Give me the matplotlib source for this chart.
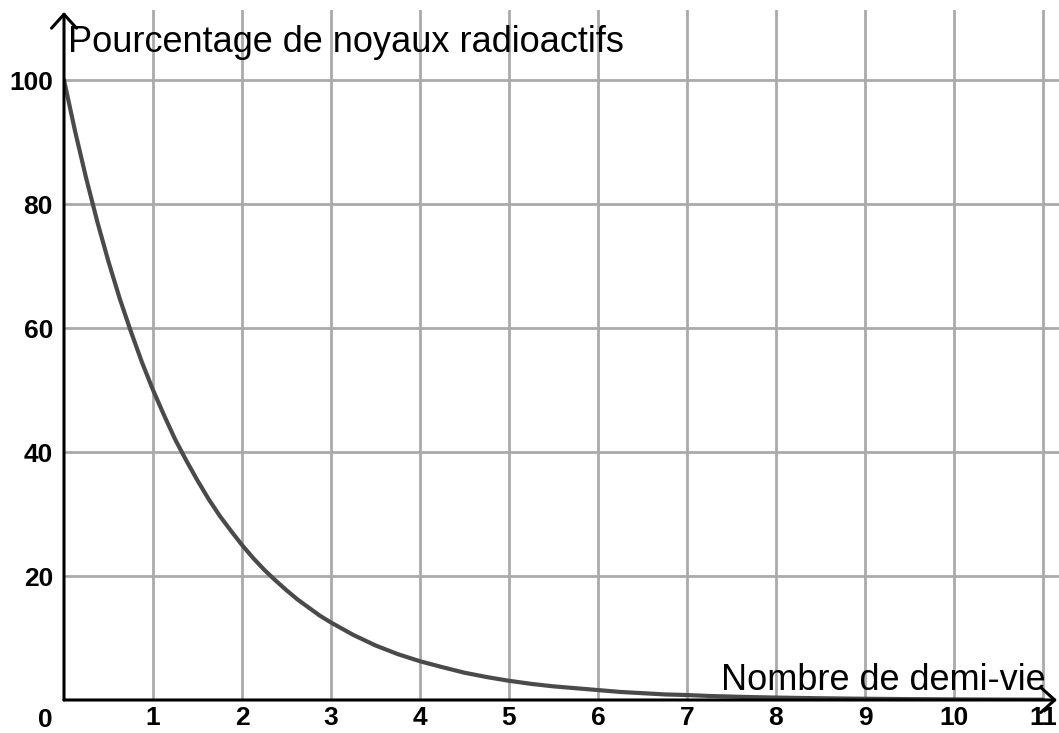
import matplotlib
matplotlib.use("Agg")
import matplotlib.pyplot as plt
from matplotlib.patches import FancyArrowPatch

# Data (half-lives vs percentage)
half_lives = [0, 0.125, 0.25, 0.375, 0.5, 0.625, 0.75, 0.875, 1, 1.125, 1.25, 1.375,
              1.5, 1.625, 1.75, 1.875, 2, 2.125, 2.25, 2.375, 2.5, 2.625, 2.75, 2.875,
              3, 3.25, 3.5, 3.75, 4, 4.25, 4.5, 4.75, 5, 5.25, 5.5, 5.75, 6, 6.25,
              6.5, 6.75, 7, 7.25, 7.5, 7.75, 8, 8.5, 9, 9.5, 10, 10.5, 11]
percent = [100, 91.7, 84.1, 77.1, 70.7, 64.8, 59.5, 54.5, 50, 45.9, 42.0, 38.6,
           35.4, 32.4, 29.7, 27.3, 25, 22.9, 21.0, 19.3, 17.7, 16.2, 14.9, 13.6,
           12.5, 10.5, 8.8, 7.4, 6.25, 5.3, 4.4, 3.7, 3.1, 2.6, 2.2, 1.9, 1.6, 1.3,
           1.1, 0.9, 0.8, 0.65, 0.55, 0.46, 0.39, 0.28, 0.2, 0.14, 0.1, 0.07, 0.05]
x_ticks = [1, 2, 3, 4, 5, 6, 7, 8, 9, 10, 11]
y_ticks = [20, 40, 60, 80, 100]

plt.rcParams['font.family'] = ['Liberation Sans', 'DejaVu Sans']

W, H = 1059, 733
fig = plt.figure(figsize=(W / 100, H / 100), dpi=100)
x0, y0, x1, y1 = 64, 700, 1059, 10
ax = fig.add_axes([x0 / W, (H - y0) / H, (x1 - x0) / W, (y0 - y1) / H])
px_x = 89.0
px_y = 6.2
xmax = (x1 - x0) / px_x
ymax = (y0 - y1) / px_y
ax.set_xlim(0, xmax)
ax.set_ylim(0, ymax)

for s in ax.spines.values():
    s.set_visible(False)

ax.set_xticks(x_ticks)
ax.set_yticks(y_ticks)
ax.set_xticklabels([str(v) for v in x_ticks])
ax.set_yticklabels([str(v) for v in y_ticks])
ax.tick_params(axis='both', length=0, labelsize=19)
ax.tick_params(axis='x', pad=4)
ax.tick_params(axis='y', pad=8)
for lab in ax.get_xticklabels() + ax.get_yticklabels():
    lab.set_fontweight('bold')
ax.grid(True, color='#aaaaaa', linewidth=2)
ax.set_axisbelow(True)

ax.plot(half_lives, percent, color='#4a4a4a', linewidth=3, solid_capstyle='round', zorder=3)

# axes with open arrowheads
ya = FancyArrowPatch((0, 0), (0, (y0 - 12) / px_y), arrowstyle='->,head_length=0.5,head_width=0.45',
                     mutation_scale=20, color='black', linewidth=2.2, clip_on=False, zorder=4,
                     shrinkA=0, shrinkB=0)
xa = FancyArrowPatch((0, 0), ((1057 - x0) / px_x, 0), arrowstyle='->,head_length=0.5,head_width=0.45',
                     mutation_scale=20, color='black', linewidth=2.2, clip_on=False, zorder=4,
                     shrinkA=0, shrinkB=0)
ax.add_patch(ya)
ax.add_patch(xa)

ax.text(-11 / px_x, -8 / px_y, '0', fontsize=19, fontweight='bold', ha='right', va='top')
ax.text(0.04, ymax - 2.4, 'Pourcentage de noyaux radioactifs', fontsize=26,
        ha='left', va='top')
ax.text((1046 - x0) / px_x, 0.4, 'Nombre de demi-vie', fontsize=26,
        ha='right', va='bottom')

fig.savefig('out.png', dpi=100)
